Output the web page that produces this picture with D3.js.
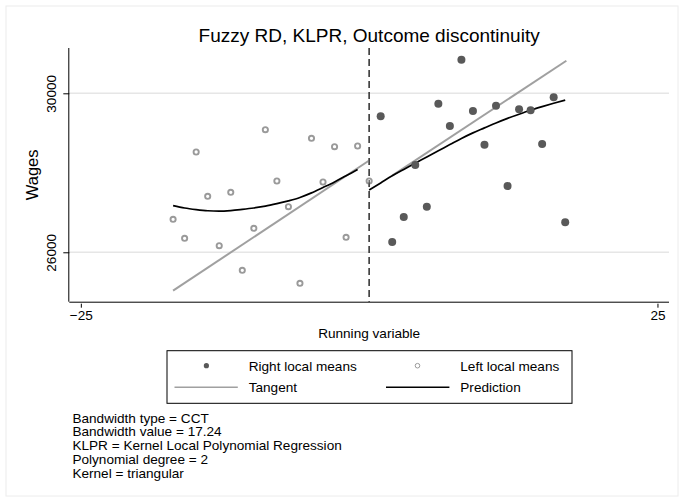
<!DOCTYPE html>
<html><head><meta charset="utf-8">
<script src="https://cdn.jsdelivr.net/npm/d3@7"></script>
<style>
html,body{margin:0;padding:0;background:#fff;}
svg{display:block;font-family:"Liberation Sans",Arial,sans-serif;}
</style></head>
<body><div id="chart"></div>
<script>
// ---- data ----
const titleText = "Fuzzy RD, KLPR, Outcome discontinuity";
const xTitle = "Running variable";
const yTitle = "Wages";
const xTicks = [-25, 25];
const yTicks = [26000, 30000];
const xDomain = [-26, 26];
const yDomain = [24757, 31140];
const cutoff = 0;

const leftX = [-17,-16,-15,-14,-13,-12,-11,-10,-9,-8,-7,-6,-5,-4,-3,-2,-1,0];
const leftY = [26830,26352,28523,27409,26166,27509,25547,26604,29084,27794,27147,25220,28868,27769,28657,26377,28674,27794];
const rightX = [1,2,3,4,5,6,7,8,9,10,11,12,13,14,15,16,17];
const rightY = [29421,26259,26888,28196,27147,29738,29177,30845,29555,28707,29688,27668,29597,29572,28725,29899,26755];

const predLeftX = [-17,-16,-15,-14,-13,-12,-11,-10,-9,-8,-7,-6,-5,-4,-3,-2,-1];
const predLeftY = [27175,27115,27075,27045,27035,27050,27080,27115,27160,27223,27295,27380,27495,27630,27770,27925,28080];
const predRightX = [0,1,2,3,4,5,6,7,8,9,10,11,12,13,14,15,16,17];
const predRightY = [27567,27745,27925,28085,28240,28400,28555,28710,28865,29005,29130,29255,29370,29475,29575,29665,29750,29830];

const tanLeftX = [-17, 0];
const tanLeftY = [25034, 28310];
const tanRightX = [2, 17.1];
const tanRightY = [27930, 30820];

const legendLabels = ["Right local means", "Left local means", "Tangent", "Prediction"];
const noteLines = [
  "Bandwidth type = CCT",
  "Bandwidth value = 17.24",
  "KLPR = Kernel Local Polynomial Regression",
  "Polynomial degree = 2",
  "Kernel = triangular"
];

// ---- drawing ----
const W = 684, H = 499;
const plot = {left: 69.3, right: 669, top: 48, bottom: 301.7};
const cRight = "#595959", cLeft = "#9a9a9a", cTan = "#a0a0a0", cPred = "#000";

const svg = d3.select("#chart").append("svg").attr("width", W).attr("height", H);
svg.append("rect").attr("x", 6).attr("y", 6).attr("width", 672).attr("height", 490)
  .attr("fill", "#fff").attr("stroke", "#ececec").attr("stroke-width", 1);

const x = d3.scaleLinear().domain(xDomain).range([plot.left, plot.right]);
const y = d3.scaleLinear().domain(yDomain).range([plot.bottom, plot.top]);

// gridlines
svg.append("g").selectAll("line").data(yTicks).join("line")
  .attr("x1", plot.left).attr("x2", plot.right)
  .attr("y1", d => y(d)).attr("y2", d => y(d))
  .attr("stroke", "#e6e6e6").attr("stroke-width", 1.4);

// axes
const xAxis = d3.axisBottom(x).tickValues(xTicks).tickSize(6).tickPadding(3)
  .tickFormat(d => d < 0 ? "\u2212" + Math.abs(d) : d);
const gx = svg.append("g").attr("transform", `translate(0,${plot.bottom})`).call(xAxis);
gx.select(".domain").attr("d", `M${plot.left},0.5H${plot.right}`).attr("stroke", "#000");
gx.selectAll(".tick line").attr("stroke", "#000").attr("y1", 2);
gx.selectAll(".tick text").attr("font-size", 13.6).attr("fill", "#000")
  .attr("font-family", "Liberation Sans, Arial, sans-serif");

const yAxis = d3.axisLeft(y).tickValues(yTicks).tickSize(6).tickPadding(4).tickFormat(d3.format("d"));
const gy = svg.append("g").attr("transform", `translate(${plot.left},0)`).call(yAxis);
gy.select(".domain").attr("d", `M-0.5,${plot.top}V${plot.bottom}`).attr("stroke", "#000");
gy.selectAll(".tick line").attr("stroke", "#000");
gy.selectAll(".tick text").attr("font-size", 13.6).attr("fill", "#000")
  .attr("font-family", "Liberation Sans, Arial, sans-serif")
  .attr("text-anchor", "middle").attr("x", null).attr("dy", null)
  .attr("transform", "translate(-13.8,0) rotate(-90)");

// cutoff dashed line
svg.append("line").attr("x1", x(cutoff)).attr("x2", x(cutoff))
  .attr("y1", plot.top).attr("y2", plot.bottom)
  .attr("stroke", "#333").attr("stroke-width", 1.1).attr("stroke-dasharray", "7,4");

// tangents
const line = d3.line().x(d => x(d[0])).y(d => y(d[1]));
svg.append("path").datum(d3.zip(tanLeftX, tanLeftY)).attr("d", line)
  .attr("fill", "none").attr("stroke", cTan).attr("stroke-width", 2);
svg.append("path").datum(d3.zip(tanRightX, tanRightY)).attr("d", line)
  .attr("fill", "none").attr("stroke", cTan).attr("stroke-width", 2);

// predictions
const curve = d3.line().x(d => x(d[0])).y(d => y(d[1])).curve(d3.curveMonotoneX);
svg.append("path").datum(d3.zip(predLeftX, predLeftY)).attr("d", curve)
  .attr("fill", "none").attr("stroke", cPred).attr("stroke-width", 1.7);
svg.append("path").datum(d3.zip(predRightX, predRightY)).attr("d", curve)
  .attr("fill", "none").attr("stroke", cPred).attr("stroke-width", 1.7);

// markers
svg.append("g").selectAll("circle").data(d3.zip(leftX, leftY)).join("circle")
  .attr("cx", d => x(d[0])).attr("cy", d => y(d[1])).attr("r", 2.6)
  .attr("fill", "#fff").attr("stroke", cLeft).attr("stroke-width", 1.9);
svg.append("g").selectAll("circle").data(d3.zip(rightX, rightY)).join("circle")
  .attr("cx", d => x(d[0])).attr("cy", d => y(d[1])).attr("r", 4)
  .attr("fill", cRight);

// redraw dashed line over the cutoff marker
svg.append("line").attr("x1", x(cutoff)).attr("x2", x(cutoff))
  .attr("y1", plot.top).attr("y2", plot.bottom)
  .attr("stroke", "#333").attr("stroke-width", 1.1).attr("stroke-dasharray", "7,4");

// titles
svg.append("text").attr("x", x(cutoff)).attr("y", 41.5).attr("text-anchor", "middle")
  .attr("font-size", 19).attr("fill", "#000").text(titleText);
svg.append("text").attr("x", x(cutoff)).attr("y", 337.5).attr("text-anchor", "middle")
  .attr("font-size", 13.6).attr("fill", "#000").text(xTitle);
svg.append("text").attr("transform", `translate(38,${(plot.top + plot.bottom) / 2}) rotate(-90)`)
  .attr("text-anchor", "middle").attr("font-size", 16.5).attr("fill", "#000").text(yTitle);

// legend
const lg = svg.append("g");
lg.append("rect").attr("x", 167).attr("y", 350.7).attr("width", 405).attr("height", 52.6)
  .attr("fill", "#fff").attr("stroke", "#000").attr("stroke-width", 1);
const r1 = 365.7, r2 = 387.3;
lg.append("circle").attr("cx", 206.4).attr("cy", r1).attr("r", 2.6).attr("fill", cRight);
lg.append("circle").attr("cx", 417.5).attr("cy", r1).attr("r", 2.3).attr("fill", "#fff")
  .attr("stroke", cLeft).attr("stroke-width", 1);
lg.append("line").attr("x1", 174.5).attr("x2", 237.8).attr("y1", r2).attr("y2", r2)
  .attr("stroke", cTan).attr("stroke-width", 1.5);
lg.append("line").attr("x1", 386).attr("x2", 449.4).attr("y1", r2).attr("y2", r2)
  .attr("stroke", cPred).attr("stroke-width", 1.6);
const lpos = [[248.7, r1], [460.3, r1], [248.7, r2], [460.3, r2]];
lg.selectAll("text").data(legendLabels).join("text")
  .attr("x", (d, i) => lpos[i][0]).attr("y", (d, i) => lpos[i][1] + 4.8)
  .attr("font-size", 13.6).attr("fill", "#000").text(d => d);

// notes
svg.append("g").selectAll("text").data(noteLines).join("text")
  .attr("x", 72.4).attr("y", (d, i) => 422.5 + i * 13.85)
  .attr("font-size", 13.6).attr("fill", "#000").text(d => d);
</script>
</body></html>
